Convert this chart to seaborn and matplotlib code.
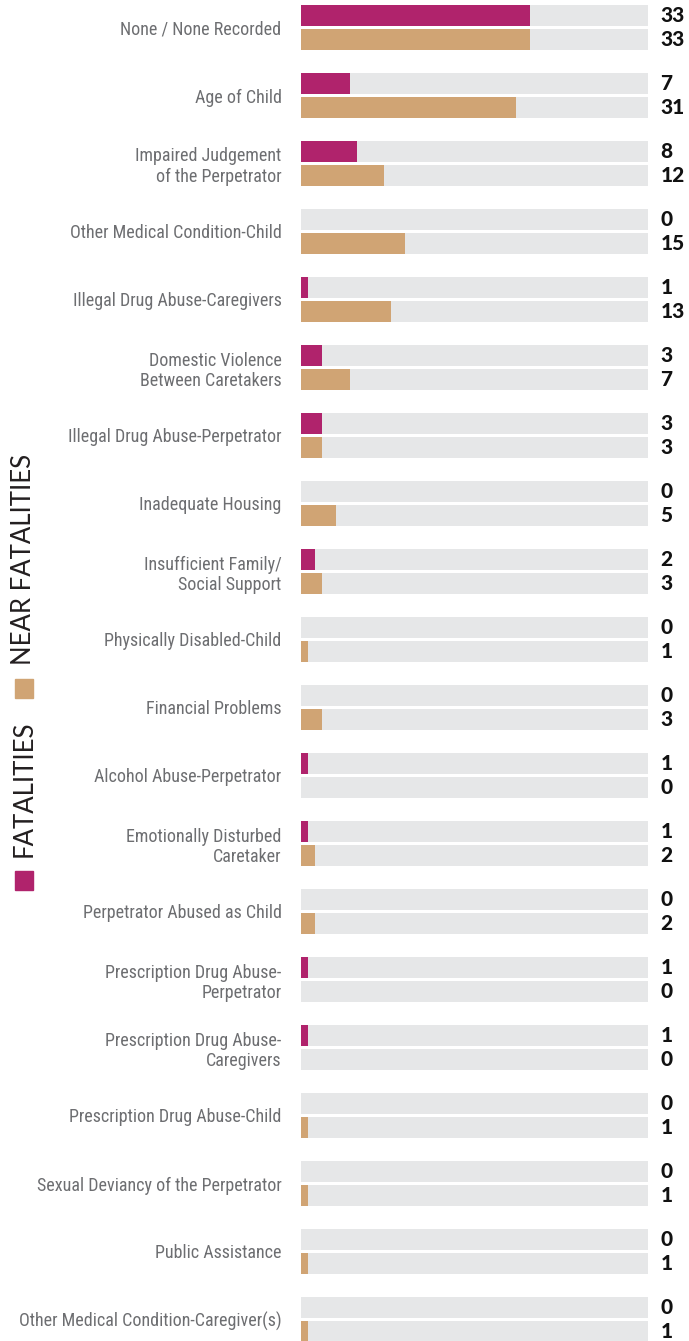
import matplotlib
matplotlib.use("Agg")
import matplotlib.pyplot as plt
import seaborn as sns
import pandas as pd

categories = [
    "None / None Recorded", "Age of Child", "Impaired Judgement\nof the Perpetrator",
    "Other Medical Condition-Child", "Illegal Drug Abuse-Caregivers",
    "Domestic Violence\nBetween Caretakers", "Illegal Drug Abuse-Perpetrator",
    "Inadequate Housing", "Insufficient Family/\nSocial Support",
    "Physically Disabled-Child", "Financial Problems", "Alcohol Abuse-Perpetrator",
    "Emotionally Disturbed\nCaretaker", "Perpetrator Abused as Child",
    "Prescription Drug Abuse-\nPerpetrator", "Prescription Drug Abuse-\nCaregivers",
    "Prescription Drug Abuse-Child", "Sexual Deviancy of the Perpetrator",
    "Public Assistance", "Other Medical Condition-Caregiver(s)",
]
fatalities = [33, 7, 8, 0, 1, 3, 3, 0, 2, 0, 0, 1, 1, 0, 1, 1, 0, 0, 0, 0]
near_fatalities = [33, 31, 12, 15, 13, 7, 3, 5, 3, 1, 3, 0, 2, 2, 0, 0, 1, 1, 1, 1]
series = ["FATALITIES", "NEAR FATALITIES"]
axis_max = 50

MAGENTA = "#B0236C"
TAN = "#D0A474"
GRAY = "#E6E7E8"
LABEL = "#6D6E71"

LABEL_FONT = ["Roboto Condensed", "Archivo Narrow", "DejaVu Sans"]
VALUE_FONT = ["Lato", "DejaVu Sans"]
LEGEND_FONT = ["Lato", "DejaVu Sans"]

rows = []
for c, f, n in zip(categories, fatalities, near_fatalities):
    rows.append({"cat": c, "series": series[0], "value": f})
    rows.append({"cat": c, "series": series[1], "value": n})
df = pd.DataFrame(rows)
bg = df.copy()
bg["value"] = axis_max

W, H = 689, 1341
fig = plt.figure(figsize=(W / 100, H / 100), dpi=100)
ax = fig.add_axes([301 / W, 0, 347 / W, 1])

common = dict(y="cat", x="value", hue="series", hue_order=series, order=categories,
              orient="h", width=0.706, gap=0.125, legend=False, saturation=1, ax=ax)
sns.barplot(data=bg, palette=[GRAY, GRAY], **common)
sns.barplot(data=df, palette=[MAGENTA, TAN], **common)

ax.set_xlim(0, axis_max)
ax.set_ylim((1341 - 27.5) / 68, -27.5 / 68)
ax.set_xlabel("")
ax.set_ylabel("")
ax.set_xticks([])
for s in ax.spines.values():
    s.set_visible(False)
ax.tick_params(axis="y", length=0, pad=14)
for t in ax.get_yticklabels():
    t.set_fontfamily(LABEL_FONT)
    t.set_fontsize(13)
    t.set_color(LABEL)
    t.set_linespacing(1.15)

# value labels
data_containers = ax.containers[2:]
for cont, vals in zip(data_containers, [fatalities, near_fatalities]):
    for patch, v in zip(cont.patches, vals):
        yc = patch.get_y() + patch.get_height() / 2
        ax.text(51.8, yc, str(v), ha="left", va="center", fontsize=15,
                fontweight=900, family=VALUE_FONT, color="#111111",
                clip_on=False)

# legend (rotated)
fig.patches.append(plt.Rectangle((15 / W, 1 - 698 / H), 18 / W, 19 / H,
                                 transform=fig.transFigure, color=TAN))
fig.patches.append(plt.Rectangle((15 / W, 1 - 890 / H), 18 / W, 19 / H,
                                 transform=fig.transFigure, color=MAGENTA))
fig.text(24 / W, 1 - 665 / H, "NEAR FATALITIES", rotation=90, ha="center", va="bottom",
         fontsize=18.5, family=LEGEND_FONT, fontweight=400, color="#231F20")
fig.text(24 / W, 1 - 857 / H, "FATALITIES", rotation=90, ha="center", va="bottom",
         fontsize=18.5, family=LEGEND_FONT, fontweight=400, color="#231F20")

fig.savefig("out.png", dpi=100)
